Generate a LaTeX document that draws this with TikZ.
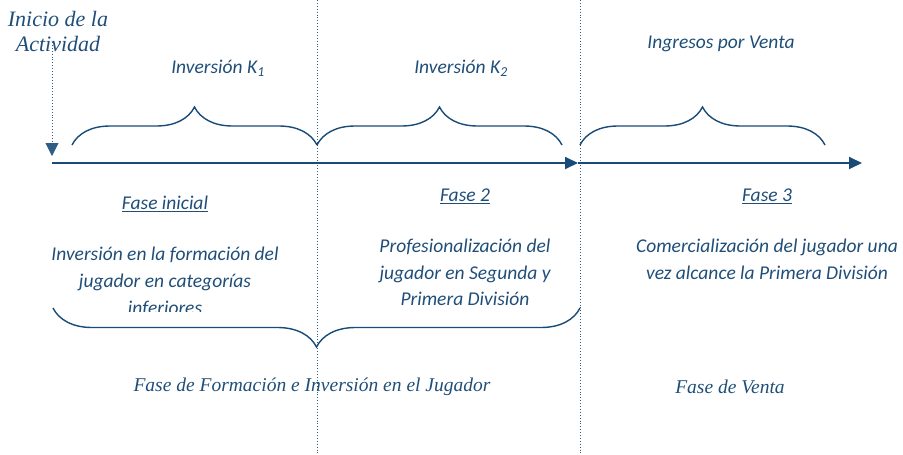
\documentclass[tikz,border=0pt]{standalone}
\usepackage{fontspec}
\setmainfont{Carlito}
\newfontfamily\timesfont{Liberation Serif}
\usetikzlibrary{arrows.meta,decorations.pathreplacing,positioning}
\definecolor{azul}{HTML}{1F4E79}
\definecolor{linea}{HTML}{184B78}

\begin{document}
\begin{tikzpicture}[x=1pt,y=-1pt,node distance=35pt,
	titulo/.style={font=\fontsize{19.5}{22}\selectfont\itshape, text=azul, inner sep=0pt},
	texto/.style={font=\fontsize{19.5}{26.7}\selectfont\itshape, text=azul, align=center, inner sep=0pt},
	serif/.style={font=\timesfont\fontsize{19.5}{24}\selectfont\itshape, text=azul, inner sep=0pt},
	llave/.style={draw=linea, line width=1.4pt, decorate, decoration={brace, amplitude=38pt}},
	flecha/.style={draw=linea, line width=1.8pt, -{Triangle[length=13pt,width=12pt]}},
	punteada/.style={draw=linea!90, dotted, line width=0.9pt}]
	\useasboundingbox (0,0) rectangle (903,455);

	% eje temporal
	\coordinate (ini) at (52,163);
	\coordinate (mitad) at (578,163);
	\coordinate (fin) at (862,163);
	\coordinate (c1) at (317,163);
	\coordinate (c2) at (580,163);

	% divisiones punteadas
	\draw[punteada] (c1 |- 0,0) -- (c1 |- 0,455);
	\draw[punteada] (c2 |- 0,0) -- (c2 |- 0,455);

	\draw[flecha] (ini) -- (mitad);
	\draw[flecha] (mitad) -- (fin);

	% inicio
	\node[serif, font=\timesfont\fontsize{22}{25}\selectfont\itshape, align=center] (inicio) at (58,31) {Inicio de la\\Actividad};
	\coordinate (ini top) at (52,42);
	\coordinate (ini tip) at (52,156);
	\draw[punteada, -{Triangle[length=13pt,width=13pt]}] (ini top) -- (ini tip);

	% llaves superiores
	\coordinate (k1a) at (72,145);
	\coordinate (k1b) at (317,145);
	\coordinate (k2a) at (317,145);
	\coordinate (k2b) at (562,145);
	\coordinate (k3a) at (580,145);
	\coordinate (k3b) at (825,145);
	\draw[llave] (k1a) -- (k1b);
	\draw[llave] (k2a) -- (k2b);
	\draw[llave] (k3a) -- (k3b);

	\node[titulo] (K1) at (218,68) {Inversión K\textsubscript{1}};
	\node[titulo] (K2) at (461,68) {Inversión K\textsubscript{2}};
	\node[titulo] (venta) at (721,44) {Ingresos por Venta};

	% fases
	\node[titulo] (fase1) at (165,204) {\underline{Fase inicial}};
	\node[titulo] (fase2) at (465,196) {\underline{Fase 2}};
	\node[titulo] (fase3) at (767,196) {\underline{Fase 3}};

	\begin{scope}
		\clip (0,0) rectangle (903,311);
		\node[texto] (desc1)[below=of fase1] {Inversión en la formación del\\jugador en categorías\\inferiores};
	\end{scope}
	\node[texto] (desc2)[below=of fase2] {Profesionalización del\\jugador en Segunda y\\Primera División};
	\node[texto] (desc3)[below=of fase3] {Comercialización del jugador una\\vez alcance la Primera División};

	% llave inferior
	\coordinate (fa) at (580,308);
	\coordinate (fb) at (53,308);
	\draw[llave, decoration={amplitude=39pt}] (fa) -- (fb);

	\node[serif] (formacion) at (312,387) {Fase de Formación e Inversión en el Jugador};
	\node[serif] (faseventa) at (730,387) {Fase de Venta};
\end{tikzpicture}
\end{document}
